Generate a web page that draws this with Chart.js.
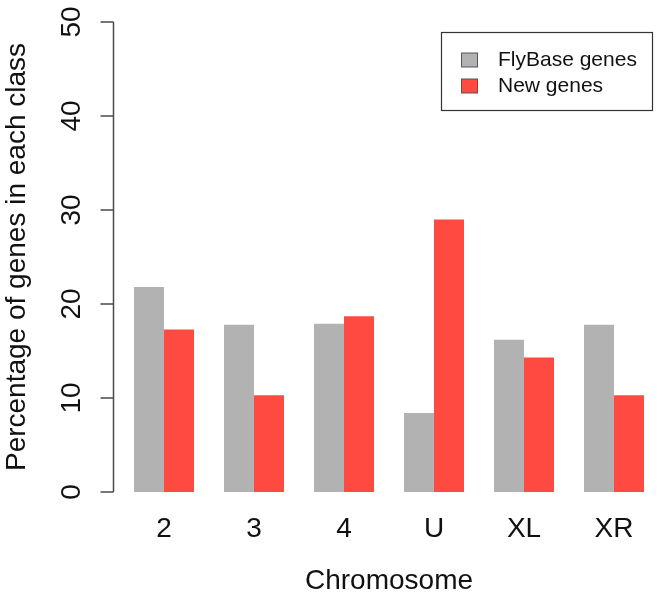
<!DOCTYPE html>
<html>
<head>
<meta charset="utf-8">
<script src="https://cdn.jsdelivr.net/npm/chart.js@4/dist/chart.umd.min.js"></script>
<style>
  html, body { margin: 0; padding: 0; background: #fff; }
  #wrap { width: 662px; height: 602px; }
</style>
</head>
<body>
<div id="wrap"><canvas id="myChart"></canvas></div>
<script>
// chromosome arms and percentage of genes per class
const chromosomes = ['2', '3', '4', 'U', 'XL', 'XR'];
const flybaseGenes = [21.8, 17.8, 17.9, 8.4, 16.2, 17.8];
const newGenes = [17.3, 10.3, 18.7, 29.0, 14.3, 10.3];
const yTicks = [0, 10, 20, 30, 40, 50];

const FONT = '"Liberation Sans", Arial, Helvetica, sans-serif';

// R style axis: line drawn a bit left of the plot region
const rAxis = {
  id: 'rAxis',
  afterDraw(chart) {
    const ctx = chart.ctx;
    const y = chart.scales.y;
    const x0 = chart.chartArea.left - 5.5;
    ctx.save();
    ctx.strokeStyle = '#4a4a4a';
    ctx.lineWidth = 1.5;
    ctx.beginPath();
    ctx.moveTo(x0, y.getPixelForValue(yTicks[0]));
    ctx.lineTo(x0, y.getPixelForValue(yTicks[yTicks.length - 1]));
    yTicks.forEach(function(v) {
      const py = y.getPixelForValue(v);
      ctx.moveTo(x0 - 13, py);
      ctx.lineTo(x0, py);
    });
    ctx.stroke();
    ctx.restore();
  }
};

// boxed legend in the top right corner
const boxLegend = {
  id: 'boxLegend',
  afterDraw(chart) {
    const ctx = chart.ctx;
    ctx.save();
    ctx.strokeStyle = '#333';
    ctx.lineWidth = 1.2;
    ctx.strokeRect(441.5, 32.5, 211, 78);
    ctx.font = '21px ' + FONT;
    ctx.textBaseline = 'middle';
    chart.data.datasets.forEach(function(ds, i) {
      const cy = 60 + i * 26;
      ctx.fillStyle = ds.backgroundColor;
      ctx.fillRect(461.5, cy - 7, 16, 14);
      ctx.strokeStyle = '#555';
      ctx.lineWidth = 1;
      ctx.strokeRect(461.5, cy - 7, 16, 14);
      ctx.fillStyle = '#111';
      ctx.fillText(ds.label, 498, cy);
    });
    ctx.restore();
  }
};

new Chart(document.getElementById('myChart'), {
  type: 'bar',
  data: {
    labels: chromosomes,
    datasets: [{
      label: 'FlyBase genes',
      data: flybaseGenes,
      backgroundColor: '#b2b2b2',
      borderWidth: 0
    }, {
      label: 'New genes',
      data: newGenes,
      backgroundColor: '#fe4a40',
      borderWidth: 0
    }]
  },
  options: {
    responsive: true,
    maintainAspectRatio: false,
    animation: false,
    devicePixelRatio: 1,
    layout: { padding: { top: 22, right: 3, bottom: 0, left: 0 } },
    datasets: { bar: { barPercentage: 1, categoryPercentage: 0.6667 } },
    plugins: {
      legend: { display: false },
      tooltip: { enabled: false }
    },
    scales: {
      x: {
        offset: true,
        grid: { display: false, drawTicks: false },
        border: { display: false },
        afterFit(scale) { scale.height = 110; },
        ticks: {
          color: '#111',
          padding: 20,
          font: { family: FONT, size: 28 }
        },
        title: {
          display: true,
          text: 'Chromosome',
          color: '#111',
          padding: { top: 0, bottom: 4 },
          font: { family: FONT, size: 28 }
        }
      },
      y: {
        min: 0,
        max: 50,
        grid: { display: false, drawTicks: false },
        border: { display: false },
        afterFit(scale) {
          scale.width = 119;
          scale.paddingTop = 0;
          scale.paddingBottom = 0;
        },
        afterBuildTicks(scale) {
          scale.ticks = yTicks.map(function(v) { return { value: v }; });
        },
        ticks: {
          color: '#111',
          minRotation: 90,
          maxRotation: 90,
          crossAlign: 'center',
          padding: 31,
          font: { family: FONT, size: 28 }
        },
        title: {
          display: true,
          text: 'Percentage of genes in each class',
          color: '#111',
          padding: { top: 0, bottom: 0 },
          font: { family: FONT, size: 28 }
        }
      }
    }
  },
  plugins: [rAxis, boxLegend]
});
</script>
</body>
</html>
